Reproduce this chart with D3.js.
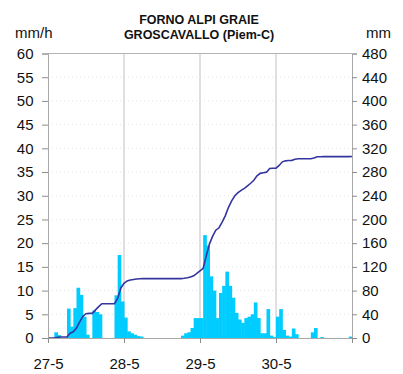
<!DOCTYPE html>
<html>
<head>
<meta charset="utf-8">
<style>
    body { margin: 0; background: #fff; }
    svg { font-family: 'Liberation Sans', Arial, sans-serif; }
    .tick text { font-size: 15px; fill: #111; }
    .tick line { stroke: #8c8c8c; }
    .domain { stroke: #a8a8a8; }
    .title { font-size: 12.5px; font-weight: bold; fill: #111; }
    .unit { font-size: 15px; fill: #111; }
</style>
</head>
<body>
<svg width="403" height="374"></svg>
<script src="https://d3js.org/d3.v7.min.js"></script>
<script>
    // hourly rainfall, mm/h
    const rain27 = [0, 0, 1.2, 0.6, 0, 0, 6.2, 2.4, 6.3, 10.6, 9.1, 4.5,
                    0.7, 0, 5.8, 5.5, 5.0, 0, 0, 0, 0, 9, 17.5, 7.7];
    const rain28 = [4.3, 1.4, 1.0, 0.7, 0.4, 0.3, 0, 0, 0, 0, 0, 0,
                    0, 0, 0, 0, 0, 0, 0.5, 1.0, 1.2, 2.1, 4.2, 4.2];
    const rain29 = [4.2, 21.7, 19.5, 13, 10, 4.2, 9.5, 11, 14, 11, 8.5, 5.3,
                    3.9, 3.2, 4.2, 4.5, 5.0, 7.5, 4.2, 1.0, 1.0, 6.1, 0.5, 0.2];
    const rain30 = [4.5, 6.1, 1.7, 0.5, 0.3, 2.0, 0.8, 0, 0, 0, 0, 1.2,
                    2.1, 0, 0.2, 0, 0, 0, 0, 0, 0, 0, 0, 0.3];

    const dayLabels = ["27-5", "28-5", "29-5", "30-5", ""];
    const dayTicks = [0, 24, 48, 72, 96];
    const leftTicks = [0, 5, 10, 15, 20, 25, 30, 35, 40, 45, 50, 55, 60];
    const rightTicks = [0, 40, 80, 120, 160, 200, 240, 280, 320, 360, 400, 440, 480];

    const rain = rain27.concat(rain28, rain29, rain30);
    const cum = Array.from(d3.cumsum(rain));
    const linePts = [[0, 0]].concat(cum.map((c, i) => [i + 1, c]));

    const svg = d3.select("svg");
    const pLeft = 48, pRight = 352, pTop = 53.5, pBottom = 338;

    const x = d3.scaleLinear().domain([0, 96]).range([pLeft, pRight]);
    const yL = d3.scaleLinear().domain([0, 60]).range([pBottom, pTop]);
    const yR = d3.scaleLinear().domain([0, 480]).range([pBottom, pTop]);

    // grid
    svg.append("g")
        .selectAll("line")
        .data(leftTicks.slice(1, -1))
        .join("line")
        .attr("x1", pLeft).attr("x2", pRight)
        .attr("y1", d => yL(d)).attr("y2", d => yL(d))
        .attr("stroke", "#e4e4e4")
        .attr("stroke-dasharray", "1 3");

    svg.append("g")
        .selectAll("line")
        .data(dayTicks.slice(1, -1))
        .join("line")
        .attr("x1", d => x(d)).attr("x2", d => x(d))
        .attr("y1", pTop).attr("y2", pBottom)
        .attr("stroke", "#d6d6d6")
        .attr("stroke-width", 1.5);

    svg.append("line")
        .attr("x1", pLeft).attr("x2", pRight)
        .attr("y1", pTop).attr("y2", pTop)
        .attr("stroke", "#b4b4b4");

    // bars (slightly overlapped so neighbours merge like the original)
    svg.append("g")
        .selectAll("rect")
        .data(rain.map((v, i) => ({ h: i, v: v })).filter(d => d.v > 0))
        .join("rect")
        .attr("x", d => x(d.h))
        .attr("width", d => x(d.h + 1) - x(d.h) + 0.5)
        .attr("y", d => yL(d.v))
        .attr("height", d => yL(0) - yL(d.v))
        .attr("fill", "#00ccff");

    // cumulative line
    svg.append("path")
        .datum(linePts)
        .attr("fill", "none")
        .attr("stroke", "#34359e")
        .attr("stroke-width", 1.6)
        .attr("d", d3.line().x(d => x(d[0])).y(d => yR(d[1])));

    // axes
    svg.append("g")
        .attr("transform", `translate(${pLeft},0)`)
        .call(d3.axisLeft(yL).tickValues(leftTicks).tickSize(6).tickPadding(8.5).tickFormat(d3.format("d")));

    svg.append("g")
        .attr("transform", `translate(${pRight},0)`)
        .call(d3.axisRight(yR).tickValues(rightTicks).tickSize(5).tickPadding(5).tickFormat(d3.format("d")));

    svg.append("g")
        .attr("transform", `translate(0,${pBottom})`)
        .call(d3.axisBottom(x).tickValues(dayTicks).tickSize(5).tickPadding(15)
            .tickFormat((d, i) => dayLabels[i]));

    svg.selectAll(".domain").attr("stroke", "#a8a8a8");

    // titles
    svg.append("text").attr("class", "title")
        .attr("x", 199).attr("y", 24).attr("text-anchor", "middle")
        .text("FORNO ALPI GRAIE");
    svg.append("text").attr("class", "title")
        .attr("x", 199).attr("y", 38.5).attr("text-anchor", "middle")
        .text("GROSCAVALLO (Piem-C)");
    svg.append("text").attr("class", "unit")
        .attr("x", 15).attr("y", 38)
        .text("mm/h");
    svg.append("text").attr("class", "unit")
        .attr("x", 366).attr("y", 38)
        .text("mm");
</script>
</body>
</html>
